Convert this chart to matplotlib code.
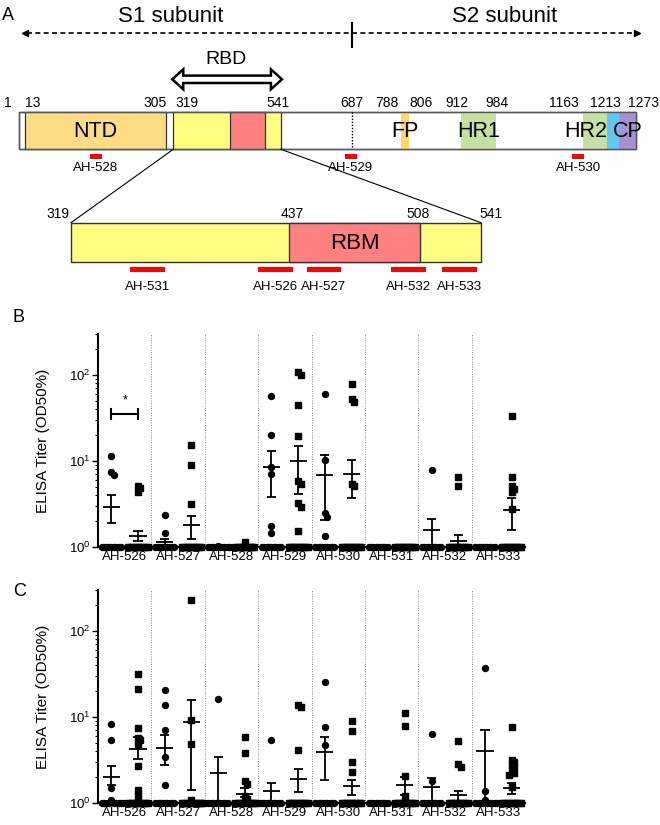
import matplotlib.pyplot as plt
import matplotlib.patches as mpatches
from matplotlib.ticker import NullFormatter
import numpy as np

plt.rcParams['font.family'] = ['Liberation Sans', 'DejaVu Sans']
plt.rcParams['mathtext.default'] = 'regular'

# ---------------- data ----------------
spike_len = 1273
domain_names = ['NTD', 'RBD', 'RBM', 'FP', 'HR1', 'HR2', 'TM', 'CP']
domain_start = [13, 319, 437, 788, 912, 1163, 1213, 1237]
domain_end = [305, 541, 508, 806, 984, 1213, 1237, 1273]
domain_colors = ['#FDDC84', '#FFFF80', '#FF8080', '#FFD966',
                 '#C6E0A4', '#C6E0A4', '#60C8F0', '#A98FD2']
s1s2_site = 687
pos_labels = [1, 13, 305, 319, 541, 687, 788, 806, 912, 984, 1163, 1213, 1273]
rbd_labels = [319, 437, 508, 541]

epi_full_names = ['AH-528', 'AH-529', 'AH-530']
epi_full_start = [147, 673, 1141]
epi_full_end = [172, 697, 1166]
epi_rbd_names = ['AH-531', 'AH-526', 'AH-527', 'AH-532', 'AH-533']
epi_rbd_start = [351, 420, 447, 492, 520]
epi_rbd_end = [370, 439, 465, 511, 539]

peptides = ['AH-526', 'AH-527', 'AH-528', 'AH-529',
            'AH-530', 'AH-531', 'AH-532', 'AH-533']
n_baseline = 9  # samples at detection limit (titer 1) per column

# panel B
b_circ_pts = [[11.4, 7.45, 6.9], [2.33, 1.46], [1.04],
              [56.5, 20.2, 8.5, 7.1, 1.75, 1.47],
              [59.6, 10.4, 2.48, 2.23, 1.33], [], [7.9], []]
b_circ_mean = [2.92, 1.14, 1.01, 8.44, 6.87, 1.0, 1.56, 1.0]
b_circ_lo = [1.9, 1.05, 1.0, 3.78, 2.04, 1.0, 1.0, 1.0]
b_circ_hi = [4.0, 1.24, 1.02, 13.1, 11.7, 1.0, 2.13, 1.0]
b_sq_pts = [[5.1, 4.85, 4.36], [15.2, 9.06, 3.16], [1.14],
            [108, 101, 45, 19.4, 5.9, 5.45, 3.25, 2.92, 1.52],
            [79.3, 52, 48.5, 5.45, 5.1], [], [6.5, 5.1],
            [33.4, 6.6, 5.1, 4.77, 4.36, 2.74]]
b_sq_mean = [1.34, 1.79, 1.01, 10.0, 7.06, 1.0, 1.17, 2.67]
b_sq_lo = [1.17, 1.25, 1.0, 4.17, 3.75, 1.0, 1.0, 1.59]
b_sq_hi = [1.53, 2.29, 1.03, 14.8, 10.4, 1.0, 1.39, 3.71]
b_sig_level = 35

# panel C
c_circ_pts = [[8.26, 5.37, 1.5, 1.09], [20.4, 13.7, 7.09, 3.4, 1.61], [16.0],
              [5.37], [25.5, 7.68, 4.7], [], [6.37, 1.79], [37.4, 1.39, 1.07]]
c_circ_mean = [2.01, 4.41, 2.24, 1.37, 3.89, 1.0, 1.53, 4.07]
c_circ_lo = [1.61, 2.75, 1.0, 1.0, 1.84, 1.0, 1.0, 1.0]
c_circ_hi = [2.67, 6.14, 3.46, 1.71, 5.87, 1.0, 1.96, 7.03]
c_sq_pts = [[31.8, 20.9, 7.48, 5.7, 5.37, 4.87, 2.67, 1.43, 1.22],
            [227, 9.2, 4.9, 1.07],
            [5.87, 3.86, 1.79, 1.68, 1.2, 1.12],
            [13.7, 13.0, 4.11], [8.94, 6.96, 2.98, 2.3],
            [11.2, 7.82, 2.04, 1.22], [5.32, 2.87, 2.63],
            [7.68, 3.2, 2.98, 2.8, 2.6, 2.4, 2.24, 2.14, 1.55]]
c_sq_mean = [4.3, 8.7, 1.28, 1.92, 1.56, 1.61, 1.25, 1.5]
c_sq_lo = [3.26, 1.4, 1.16, 1.33, 1.25, 1.25, 1.05, 1.27]
c_sq_hi = [5.82, 15.8, 1.5, 2.49, 1.84, 1.99, 1.39, 1.71]

# ---------------- figure ----------------
W, H = 660, 825
fig = plt.figure(figsize=(6.6, 8.25), dpi=100)

# panel A drawn on a pixel canvas
ax_a = fig.add_axes([0, 0, 1, 1])
ax_a.set_xlim(0, W)
ax_a.set_ylim(H, 0)
ax_a.axis('off')


def rx(r):  # residue -> x on the full-length bar
    return 19 + (r - 1) * 617 / (spike_len - 1)


def zx(r):  # residue -> x on the magnified RBD bar
    return 71 + (r - 319) * 410 / (541 - 319)


bar_top, bar_bot = 111.7, 149.3
ax_a.add_patch(mpatches.Rectangle((rx(1), bar_top), rx(spike_len) - rx(1),
                                  bar_bot - bar_top, fc='white', ec='#555555', lw=1))
for name, s, e, col in zip(domain_names, domain_start, domain_end, domain_colors):
    edge = '#333333' if name in ('NTD', 'RBD', 'RBM') else 'none'
    ax_a.add_patch(mpatches.Rectangle((rx(s), bar_top), rx(e) - rx(s),
                                      bar_bot - bar_top, fc=col, ec=edge, lw=0.9))
ax_a.add_patch(mpatches.Rectangle((rx(1), bar_top), rx(spike_len) - rx(1),
                                  bar_bot - bar_top, fc='none', ec='#555555', lw=1))
ax_a.plot([rx(s1s2_site)] * 2, [bar_top, bar_bot], color='black', ls=(0, (1, 1.2)), lw=1)

mid_y = (bar_top + bar_bot) / 2 + 1
for name, s, e in zip(domain_names, domain_start, domain_end):
    if name in ('NTD', 'FP', 'HR1', 'CP'):
        ax_a.text(rx((s + e) / 2), mid_y, name, ha='center', va='center', fontsize=15.5)
    elif name == 'HR2':
        ax_a.text(rx(e), mid_y, name, ha='right', va='center', fontsize=15.5)

label_align = {1: ('right', -7), 13: ('left', 0), 305: ('right', 0), 319: ('left', 2),
               541: ('center', -3), 687: ('center', 0), 788: ('right', -2),
               806: ('left', 0), 912: ('center', -4), 984: ('center', 1),
               1163: ('right', -4), 1213: ('center', -1), 1273: ('right', 23)}
for p in pos_labels:
    ha, dx = label_align[p]
    ax_a.text(rx(p) + dx, 103, str(p), ha=ha, va='center', fontsize=10)

for name, s, e in zip(epi_full_names, epi_full_start, epi_full_end):
    ax_a.add_patch(mpatches.Rectangle((rx(s), 153.5), rx(e) - rx(s), 5, fc='red', ec='none'))
    ax_a.text(rx((s + e) / 2), 168, name, ha='center', va='center', fontsize=9.5)

# S1 / S2 arrow
ax_a.plot([27, 635], [32.5, 32.5], color='black', ls=(0, (3, 2)), lw=1.2)
ax_a.plot(25, 32.5, marker='<', color='black', ms=5)
ax_a.plot(637, 32.5, marker='>', color='black', ms=5)
ax_a.plot([rx(s1s2_site)] * 2, [23, 47], color='black', lw=1.5)
ax_a.text(171, 16, 'S1 subunit', ha='center', va='center', fontsize=16)
ax_a.text(505, 16, 'S2 subunit', ha='center', va='center', fontsize=16)
ax_a.text(2, 15, 'A', ha='left', va='center', fontsize=13)

# RBD hollow double arrow
xa, xb, ya = rx(319) - 1, rx(541) + 1, 79.3
hl, hw, bw = 11, 10, 3.7
arrow_xy = [(xa, ya), (xa + hl, ya - hw), (xa + hl, ya - bw), (xb - hl, ya - bw),
            (xb - hl, ya - hw), (xb, ya), (xb - hl, ya + hw), (xb - hl, ya + bw),
            (xa + hl, ya + bw), (xa + hl, ya + hw)]
ax_a.add_patch(mpatches.Polygon(arrow_xy, closed=True, fc='white', ec='black', lw=1.8,
                                joinstyle='miter'))
ax_a.text(226, 60, 'RBD', ha='center', va='center', fontsize=14)

# magnified RBD
z_top, z_bot = 222.7, 261.7
for name, s, e, col in zip(domain_names, domain_start, domain_end, domain_colors):
    if name in ('RBD', 'RBM'):
        ax_a.add_patch(mpatches.Rectangle((zx(s), z_top), zx(e) - zx(s), z_bot - z_top,
                                          fc=col, ec='#333333', lw=1))
ax_a.text(zx((437 + 508) / 2), (z_top + z_bot) / 2 + 1, 'RBM', ha='center',
          va='center', fontsize=16)
ax_a.plot([rx(319), zx(319)], [bar_bot, z_top], color='black', lw=0.8)
ax_a.plot([rx(541), zx(541)], [bar_bot, z_top], color='black', lw=0.8)
rbd_align = {319: ('right', -2), 437: ('center', 3), 508: ('center', -2), 541: ('left', -2)}
for p in rbd_labels:
    ha, dx = rbd_align[p]
    ax_a.text(zx(p) + dx, 214, str(p), ha=ha, va='center', fontsize=10)
for name, s, e in zip(epi_rbd_names, epi_rbd_start, epi_rbd_end):
    ax_a.add_patch(mpatches.Rectangle((zx(s), 266.5), zx(e) - zx(s), 5, fc='red', ec='none'))
    ax_a.text(zx((s + e) / 2), 287, name, ha='center', va='center', fontsize=9.5)

ax_a.text(13, 318, 'B', ha='left', va='center', fontsize=13)
ax_a.text(13, 592, 'C', ha='left', va='center', fontsize=13)


# ---------------- panels B and C ----------------
def swarm(vals, step=0.09, tol=0.05):
    logs = np.log10(vals)
    order = np.argsort(-logs, kind='stable')
    xs = np.zeros(len(vals))
    placed = []
    for i in order:
        off = 0.0
        for k in range(40):
            off = ((k + 1) // 2) * step * (1 if k % 2 else -1)
            if all(abs(off - px) > step * 0.9 or abs(logs[i] - pl) > tol
                   for px, pl in placed):
                break
        xs[i] = off
        placed.append((off, logs[i]))
    return xs


def draw_panel(ax, circ, sq):
    for g in range(len(peptides)):
        for side, (pts, mean, lo, hi), marker, ms in (
                (0, circ, 'o', 4.3), (1, sq, 's', 3.9)):
            xc = 2 * g + side
            vals = np.array(pts[g] + [1.0] * n_baseline)
            ax.plot(xc + swarm(vals), vals, ls='none', marker=marker, ms=ms,
                    color='black', mec='black', clip_on=False, zorder=3)
            ax.hlines(mean[g], xc - 0.32, xc + 0.32, color='black', lw=1.3, zorder=4)
            if hi[g] > lo[g]:
                ax.vlines(xc, lo[g], hi[g], color='black', lw=1.3, zorder=4)
                ax.hlines([lo[g], hi[g]], xc - 0.17, xc + 0.17, color='black',
                          lw=1.3, zorder=4)
    for k in range(1, len(peptides)):
        ax.axvline(2 * k - 0.5, color='#888888', ls=(0, (1, 1.5)), lw=0.7, zorder=1)
    ax.set_yscale('log')
    ax.set_ylim(1, 300)
    ax.set_xlim(-0.5, 2 * len(peptides) - 0.5)
    ax.set_yticks([1, 10, 100], ['$10^{0}$', '$10^{1}$', '$10^{2}$'], fontsize=9.5)
    ax.yaxis.set_minor_formatter(NullFormatter())
    ax.set_xticks(np.arange(len(peptides)) * 2 + 0.5, peptides, fontsize=9.5)
    ax.tick_params(axis='x', length=0, pad=3)
    ax.tick_params(axis='y', which='major', length=4, width=1, pad=1)
    ax.tick_params(axis='y', which='minor', length=2, width=0.8)
    for sp in ('top', 'right'):
        ax.spines[sp].set_visible(False)
    for sp in ('left', 'bottom'):
        ax.spines[sp].set_linewidth(1.5)
    ax.set_ylabel('ELISA Titer (OD50%)', fontsize=11)
    ax.yaxis.set_label_coords(-0.112, 0.5)
    ax.patch.set_alpha(0)


ax_b = fig.add_axes([98 / W, (H - 547) / H, 427 / W, 213 / H])
draw_panel(ax_b, (b_circ_pts, b_circ_mean, b_circ_lo, b_circ_hi),
           (b_sq_pts, b_sq_mean, b_sq_lo, b_sq_hi))
# significance bracket
ax_b.plot([0, 1], [b_sig_level] * 2, color='black', lw=1.5)
for xe in (0, 1):
    ax_b.plot([xe, xe], [b_sig_level * 0.88, b_sig_level * 1.14], color='black', lw=1.5)
ax_b.text(0.5, b_sig_level * 1.22, '*', ha='center', va='bottom', fontsize=9)

ax_c = fig.add_axes([98 / W, (H - 803) / H, 427 / W, 213 / H])
draw_panel(ax_c, (c_circ_pts, c_circ_mean, c_circ_lo, c_circ_hi),
           (c_sq_pts, c_sq_mean, c_sq_lo, c_sq_hi))

fig.savefig('out.png', dpi=100)
